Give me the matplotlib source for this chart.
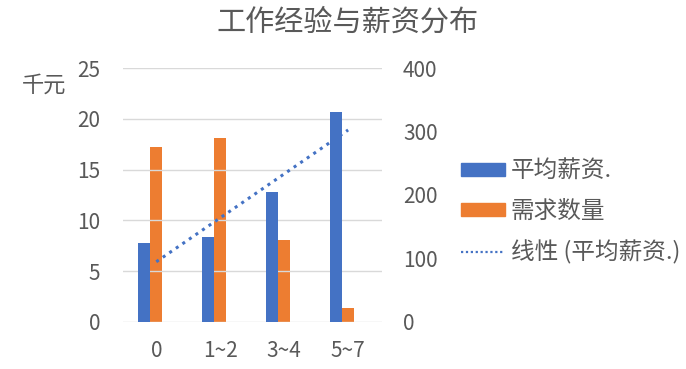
import numpy as np
import matplotlib
matplotlib.use("Agg")
import matplotlib.pyplot as plt
from matplotlib.patches import Patch
from matplotlib.lines import Line2D

plt.rcParams['font.family'] = ['Noto Sans CJK SC', 'DejaVu Sans']

# data
categories = ['0', '1~2', '3~4', '5~7']
avg_salary = [7.75, 8.4, 12.8, 20.7]      # 千元, left axis
demand = [275, 290, 129, 22]               # right axis

blue = '#4472C4'
orange = '#ED7D31'
gray = '#595959'
grid_c = '#D9D9D9'

fig = plt.figure(figsize=(6.86, 3.69), dpi=100)
ax1 = fig.add_axes([0.1793, 0.1274, 0.3776, 0.6883])
ax2 = ax1.twinx()

xs = np.arange(len(categories))
w = 0.1875
ax1.bar(xs - w, avg_salary, width=w, align='center', color=blue, zorder=3)
ax2.bar(xs, demand, width=w, align='center', color=orange, zorder=3)

# linear trend of the salary series (same as Excel's trendline)
slope, icpt = np.polyfit(xs, avg_salary, 1)
tx = np.array([xs[0], xs[-1]])
ax1.plot(tx, slope * tx + icpt, linestyle=(0, (1, 1.6)), color=blue, lw=2.2,
         zorder=4)

ax1.set_xlim(-0.52, 3.53)
ax1.set_ylim(0, 25)
ax2.set_ylim(0, 400)
ax1.set_yticks([0, 5, 10, 15, 20, 25])
ax2.set_yticks([0, 100, 200, 300, 400])
ax1.set_xticks(xs)
ax1.set_xticklabels(categories)

ax1.grid(axis='y', color=grid_c, lw=1, zorder=0)
ax1.set_axisbelow(True)
for ax in (ax1, ax2):
    for s in ax.spines.values():
        s.set_visible(False)
    ax.tick_params(length=0, labelsize=15, colors=gray)
ax1.tick_params(axis='y', pad=16.5)
ax2.tick_params(axis='y', pad=15)
ax1.tick_params(axis='x', pad=13)
ax2.set_zorder(ax1.get_zorder() - 1)
ax1.patch.set_visible(False)

fig.text(0.064, 0.77, '千元', fontsize=16, color=gray, ha='center', va='center')
fig.text(0.506, 0.939, '工作经验与薪资分布', fontsize=21, color=gray,
         ha='center', va='center')

handles = [Patch(color=blue), Patch(color=orange),
           Line2D([0], [0], color=blue, lw=1.6, linestyle=(0, (1, 1.2)))]
labels = ['平均薪资.', '需求数量', '线性 (平均薪资.)']
fig.legend(handles, labels, loc='center left', bbox_to_anchor=(0.672, 0.425),
           frameon=False, fontsize=17, labelcolor=gray, handlelength=1.86,
           handleheight=0.42, handletextpad=0.25, labelspacing=0.72,
           borderpad=0, borderaxespad=0)

fig.savefig('out.png', dpi=100)
